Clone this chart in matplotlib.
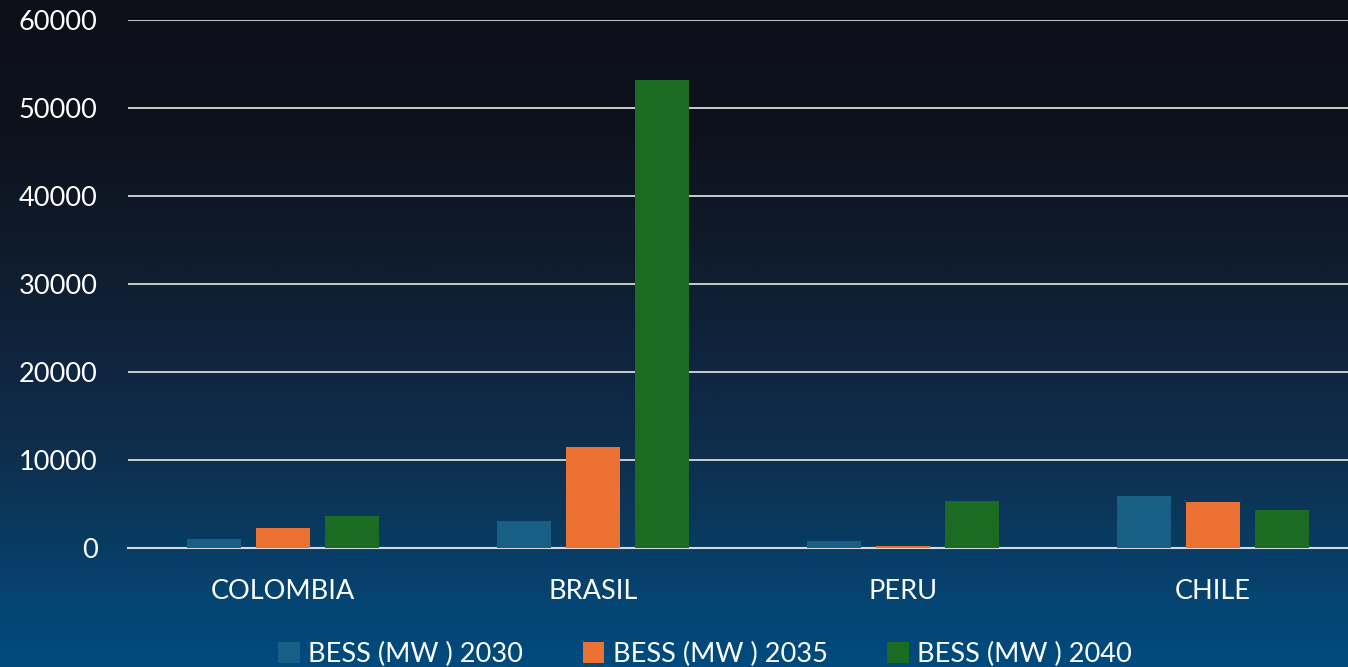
import numpy as np
import matplotlib
matplotlib.use("Agg")
import matplotlib.pyplot as plt
from matplotlib.colors import LinearSegmentedColormap
from matplotlib.patches import Patch

countries = ["COLOMBIA", "BRASIL", "PERU", "CHILE"]
series_names = ["BESS (MW ) 2030", "BESS (MW ) 2035", "BESS (MW ) 2040"]
bess_2030 = [1000, 3100, 800, 5900]
bess_2035 = [2300, 11500, 250, 5250]
bess_2040 = [3650, 53200, 5350, 4300]
colors = ["#185f85", "#eb7233", "#1c6b22"]

plt.rcParams['font.family'] = ['Lato', 'DejaVu Sans']

fig = plt.figure(figsize=(13.48, 6.67), dpi=100)

# gradient background
bg = fig.add_axes([0, 0, 1, 1], zorder=-10)
stops = [(0.0, "#0d1019"), (0.2, "#0e121d"), (0.4, "#0f1d2e"), (0.55, "#102540"),
         (0.7, "#0d304f"), (0.8, "#093a5f"), (0.9, "#054472"), (1.0, "#004b7e")]
cmap = LinearSegmentedColormap.from_list("bg", stops)
grad = np.linspace(0, 1, 400).reshape(-1, 1)
bg.imshow(grad, aspect="auto", cmap=cmap, extent=[0, 1, 0, 1])
bg.axis("off")

ax = fig.add_axes([128 / 1348, 119 / 667, 1240 / 1348, 528 / 667])
ax.patch.set_alpha(0)

x = np.arange(len(countries))
w = 0.174
off = 0.2226
for i, (vals, c) in enumerate(zip([bess_2030, bess_2035, bess_2040], colors)):
    ax.bar(x + (i - 1) * off, vals, width=w, color=c, zorder=3)

ax.set_xlim(-0.5, 3.5)
ax.set_ylim(0, 60000)
ax.set_yticks(range(0, 60001, 10000))
ax.set_xticks(x)
ax.set_xticklabels(countries)
ax.grid(axis="y", color="#d9d9d9", linewidth=1.3, zorder=1)
ax.set_axisbelow(True)
for s in ["top", "right", "left"]:
    ax.spines[s].set_visible(False)
ax.spines["bottom"].set_color("#d9d9d9")
ax.spines["bottom"].set_linewidth(1.5)
ax.tick_params(axis="both", length=0, labelsize=19.5, colors="white")
ax.tick_params(axis="x", pad=22)
ax.tick_params(axis="y", pad=22)

handles = [Patch(facecolor=c, edgecolor="none") for c in colors]
fig.legend(handles, series_names, loc="center", bbox_to_anchor=(0.523, 0.019),
           ncol=3, frameon=False, fontsize=19.5, labelcolor="white",
           handlelength=0.8, handleheight=0.8, handletextpad=0.3, columnspacing=2.2)

fig.savefig("out.png", dpi=100)
